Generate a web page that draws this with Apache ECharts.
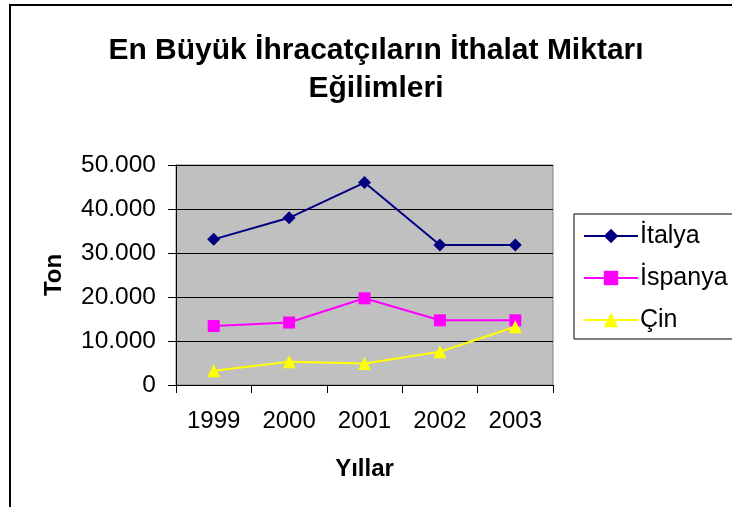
<!DOCTYPE html>
<html>
<head>
<meta charset="utf-8">
<script src="https://cdn.jsdelivr.net/npm/echarts@6/dist/echarts.min.js"></script>
<style>
  html, body { margin: 0; padding: 0; background: #fff; }
  #chart { width: 732px; height: 507px; }
</style>
</head>
<body>
<div id="chart"></div>
<script>
// veriler (grafikten okunan yaklaşık değerler)
var years = ["1999", "2000", "2001", "2002", "2003"];
var italya = [33100, 38000, 46000, 31800, 31800];
var ispanya = [13400, 14200, 19700, 14700, 14700];
var cin = [3250, 5300, 4900, 7550, 13250];
var seriesNames = ["İtalya", "İspanya", "Çin"];

var font = "Liberation Sans, Arial, sans-serif";

function dotted(v) {
  return String(v).replace(/\B(?=(\d{3})+(?!\d))/g, ".");
}

var chart = echarts.init(document.getElementById("chart"));
var option = {
  animation: false,
  backgroundColor: "#fff",
  textStyle: { fontFamily: font, color: "#000" },
  graphic: [
    {
      type: "rect",
      shape: { x: 10, y: 5, width: 900, height: 700 },
      style: { fill: null, stroke: "#000", lineWidth: 2 },
      silent: true
    }
  ],
  title: {
    text: "En Büyük İhracatçıların İthalat Miktarı\nEğilimleri",
    left: 371,
    top: 27,
    textAlign: "center",
    textStyle: {
      fontFamily: font,
      fontSize: 30,
      fontWeight: "bold",
      color: "#000",
      lineHeight: 38
    }
  },
  legend: {
    orient: "vertical",
    left: 574,
    top: 214,
    data: seriesNames,
    itemWidth: 54,
    itemHeight: 18,
    itemGap: 14,
    padding: [8, 20, 5, 9],
    borderColor: "#000",
    borderWidth: 1,
    backgroundColor: "#fff",
    textStyle: { fontFamily: font, fontSize: 25, color: "#000", lineHeight: 28, padding: [0, 0, 0, -3] }
  },
  grid: {
    left: 176,
    right: 179,
    top: 165,
    bottom: 122,
    show: true,
    backgroundColor: "#C0C0C0",
    borderColor: "#808080",
    borderWidth: 1
  },
  xAxis: {
    type: "category",
    data: years,
    boundaryGap: true,
    name: "Yıllar",
    nameLocation: "middle",
    nameGap: 72,
    nameTextStyle: { fontFamily: font, fontSize: 24, fontWeight: "bold", color: "#000" },
    axisLine: { lineStyle: { color: "#000", width: 1 } },
    axisTick: { show: true, length: 8, inside: false, lineStyle: { color: "#000" } },
    axisLabel: { fontFamily: font, fontSize: 24, color: "#000", margin: 24 },
    splitLine: { show: false }
  },
  yAxis: {
    type: "value",
    min: 0,
    max: 50000,
    interval: 10000,
    name: "Ton",
    nameLocation: "middle",
    nameGap: 110,
    nameRotate: 90,
    nameTextStyle: { fontFamily: font, fontSize: 24, fontWeight: "bold", color: "#000" },
    axisLine: { show: true, lineStyle: { color: "#000", width: 1 } },
    axisTick: { show: true, length: 8, inside: false, lineStyle: { color: "#000" } },
    axisLabel: { fontFamily: font, fontSize: 24.5, color: "#000", margin: 20, formatter: dotted },
    splitLine: { show: true, lineStyle: { color: "#000", width: 1 } }
  },
  series: [
    {
      name: seriesNames[0],
      type: "line",
      data: italya,
      symbol: "diamond",
      symbolSize: 13,
      color: "#000080",
      lineStyle: { color: "#000080", width: 2 },
      itemStyle: { color: "#000080" }
    },
    {
      name: seriesNames[1],
      type: "line",
      data: ispanya,
      symbol: "rect",
      symbolSize: 12,
      color: "#FF00FF",
      lineStyle: { color: "#FF00FF", width: 2 },
      itemStyle: { color: "#FF00FF" }
    },
    {
      name: seriesNames[2],
      type: "line",
      data: cin,
      symbol: "triangle",
      symbolSize: 13,
      color: "#FFFF00",
      lineStyle: { color: "#FFFF00", width: 2 },
      itemStyle: { color: "#FFFF00" }
    }
  ]
};
chart.setOption(option);
</script>
</body>
</html>
